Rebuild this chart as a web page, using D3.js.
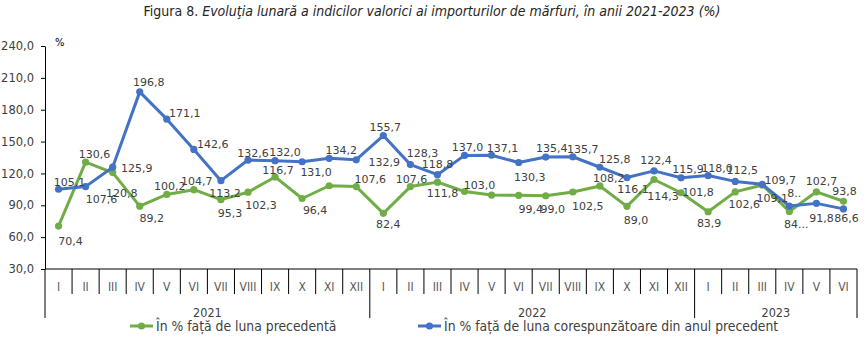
<!DOCTYPE html>
<html>
<head>
<meta charset="utf-8">
<script src="https://cdn.jsdelivr.net/npm/d3@7"></script>
<style>
  body {margin: 0; background: #fff;}
  svg {display: block;}
  .narrow {font-family: 'Liberation Sans Narrow', 'DejaVu Sans Condensed', 'Arial Narrow', sans-serif;}
  .lbl {font-family: 'DejaVu Sans', sans-serif; font-size: 11px; fill: #404040;}
</style>
</head>
<body>
<div class="chart"></div>
<script>
var months = ['I','II','III','IV','V','VI','VII','VIII','IX','X','XI','XII',
  'I','II','III','IV','V','VI','VII','VIII','IX','X','XI','XII',
  'I','II','III','IV','V','VI']
var years = ['2021', '2022', '2023']
var yearMonths = [12, 12, 6]

var yTicks = [30, 60, 90, 120, 150, 180, 210, 240]

// in % fata de luna precedenta
var prevMonth = [70.4, 130.6, 120.8, 89.2, 100.2, 104.7, 95.3, 102.3, 116.7, 96.4, 108.4, 107.6,
  82.4, 107.6, 111.8, 103.0, 99.6, 99.4, 99.0, 102.5, 108.2, 89.0, 114.3, 101.8,
  83.9, 102.6, 109.1, 84.2, 102.7, 93.8]
// in % fata de luna corespunzatoare din anul precedent
var prevYear = [105.1, 107.6, 125.9, 196.8, 171.1, 142.6, 113.2, 132.6, 132.0, 131.0, 134.2, 132.9,
  155.7, 128.3, 118.8, 137.0, 137.1, 130.3, 135.4, 135.7, 125.8, 116.1, 122.4, 115.9,
  118.0, 112.5, 109.7, 89.3, 91.8, 86.6]

// label texts as they show in the picture (some are hidden or cut)
var fmt = d => d3.format('.1f')(d).replace('.', ',')
var prevMonthText = prevMonth.map(fmt)
prevMonthText[10] = null
prevMonthText[16] = null
prevMonthText[27] = '84...'
var prevYearText = prevYear.map(fmt)
prevYearText[27] = '8..'

var seriesNames = ['În % față de luna precedentă', 'În % față de luna corespunzătoare din anul precedent']

// label offsets from the point (label centre), px
var prevMonthOff = [[12,15],[9,-8],[9,21],[12,12],[3,-8],[3,-8],[9,14],[13,13],[3,-6],[13,12],[0,0],[14,-7],
  [5,11],[1,-7],[5,11],[15,-6],[0,0],[12,14],[7,14],[15,14],[9,-7],[9,14],[9,17],[17,0],
  [1,12],[9,13],[10,13],[7,13],[5,-10],[1,-10]]
var prevYearOff = [[11,-7],[16,13],[24,1],[9,-9],[18,-6],[19,-5],[4,13],[5,-7],[10,-8],[14,11],[12,-8],[28,3],
  [2,-8],[12,-11],[0,-10],[3,-8],[11,-7],[11,15],[6,-9],[10,-7],[15,-8],[6,12],[2,-10],[7,-8],
  [9,-7],[7,-11],[18,-4],[5,-13],[5,15],[3,10]]

var width = 867, height = 341
var green = '#70ad47', blue = '#4472c4'

var svg = d3.select('.chart').append('svg')
  .attr('width', width).attr('height', height)

var x = d3.scaleBand().domain(d3.range(months.length)).range([45, 857])
var y = d3.scaleLinear().domain([30, 240]).range([269, 46])
var xc = i => x(i) + x.bandwidth()/2

// title
var title = svg.append('text').attr('class', 'narrow')
  .attr('x', 432).attr('y', 16).attr('text-anchor', 'middle')
  .style('font-size', '14px').style('fill', '#262626')
title.append('tspan').text('Figura 8. ')
title.append('tspan').style('font-style', 'italic')
  .text('Evoluţia lunară a indicilor valorici ai importurilor de mărfuri, în anii 2021-2023 (%)')

// y axis
var yAxis = svg.append('g').attr('transform', 'translate(45,0)')
  .call(d3.axisLeft(y).tickValues(yTicks).tickSize(4).tickSizeOuter(0).tickFormat(fmt))
yAxis.select('.domain').attr('stroke', '#000')
yAxis.selectAll('.tick line').attr('stroke', '#000')
yAxis.selectAll('.tick text').attr('class', 'lbl').attr('x', -11)
  .style('font-size', '11.5px').attr('font-family', null).attr('font-size', null)

svg.append('text').attr('class', 'lbl').attr('x', 55).attr('y', 46).text('%')
  .style('font-size', '10px').style('fill', '#000')

// x axis: months, then years
var xg = svg.append('g')
xg.append('line').attr('x1', 45).attr('x2', 857).attr('y1', y(30)).attr('y2', y(30))
  .attr('stroke', '#000')

var yearStarts = d3.cumsum([0].concat(yearMonths))
xg.selectAll('line.sep').data(d3.range(months.length + 1)).join('line')
  .attr('class', 'sep')
  .attr('x1', i => i < months.length ? x(i) : x.range()[1])
  .attr('x2', i => i < months.length ? x(i) : x.range()[1])
  .attr('y1', y(30))
  .attr('y2', i => yearStarts.includes(i) ? 318 : 294)
  .attr('stroke', '#000')

xg.selectAll('text.month').data(months).join('text')
  .attr('class', 'month narrow')
  .attr('x', (d, i) => xc(i)).attr('y', 287)
  .attr('text-anchor', 'middle').attr('dominant-baseline', 'central')
  .style('font-size', '12px').style('fill', '#595959')
  .text(d => d)

xg.selectAll('text.year').data(years).join('text')
  .attr('class', 'year narrow')
  .attr('x', (d, i) => (x(yearStarts[i]) + (yearStarts[i+1] < months.length ? x(yearStarts[i+1]) : x.range()[1])) / 2)
  .attr('y', 312)
  .attr('text-anchor', 'middle').attr('dominant-baseline', 'central')
  .style('font-size', '12.5px').style('fill', '#404040')
  .text(d => d)

// lines
var line = d3.line().x((d, i) => xc(i)).y(d => y(d))

function drawSeries(vals, color){
  var g = svg.append('g')
  g.append('path').datum(vals).attr('d', line)
    .attr('fill', 'none').attr('stroke', color).attr('stroke-width', 3)
    .attr('stroke-linejoin', 'round').attr('stroke-linecap', 'round')
  g.selectAll('circle').data(vals).join('circle')
    .attr('cx', (d, i) => xc(i)).attr('cy', d => y(d)).attr('r', 3.6)
    .attr('fill', color)
}
drawSeries(prevMonth, green)
drawSeries(prevYear, blue)

function drawLabels(vals, texts, offs){
  svg.append('g').selectAll('text').data(vals).join('text')
    .attr('class', 'lbl')
    .attr('x', (d, i) => xc(i) + offs[i][0])
    .attr('y', (d, i) => y(d) + offs[i][1])
    .attr('text-anchor', 'middle').attr('dominant-baseline', 'central')
    .text((d, i) => texts[i])
}
drawLabels(prevMonth, prevMonthText, prevMonthOff)
drawLabels(prevYear, prevYearText, prevYearOff)

// legend
var legendX = [130, 418]
var lg = svg.append('g').selectAll('g').data(seriesNames).join('g')
  .attr('transform', (d, i) => 'translate(' + legendX[i] + ',326)')
lg.append('line').attr('x1', 0).attr('x2', 23)
  .attr('stroke', (d, i) => i ? blue : green).attr('stroke-width', 3)
lg.append('circle').attr('cx', 11.5).attr('r', 3.6).attr('fill', (d, i) => i ? blue : green)
lg.append('text').attr('class', 'narrow').attr('x', 26)
  .attr('dominant-baseline', 'central')
  .style('font-size', '13.8px').style('fill', '#404040')
  .text(d => d)
</script>
</body>
</html>
